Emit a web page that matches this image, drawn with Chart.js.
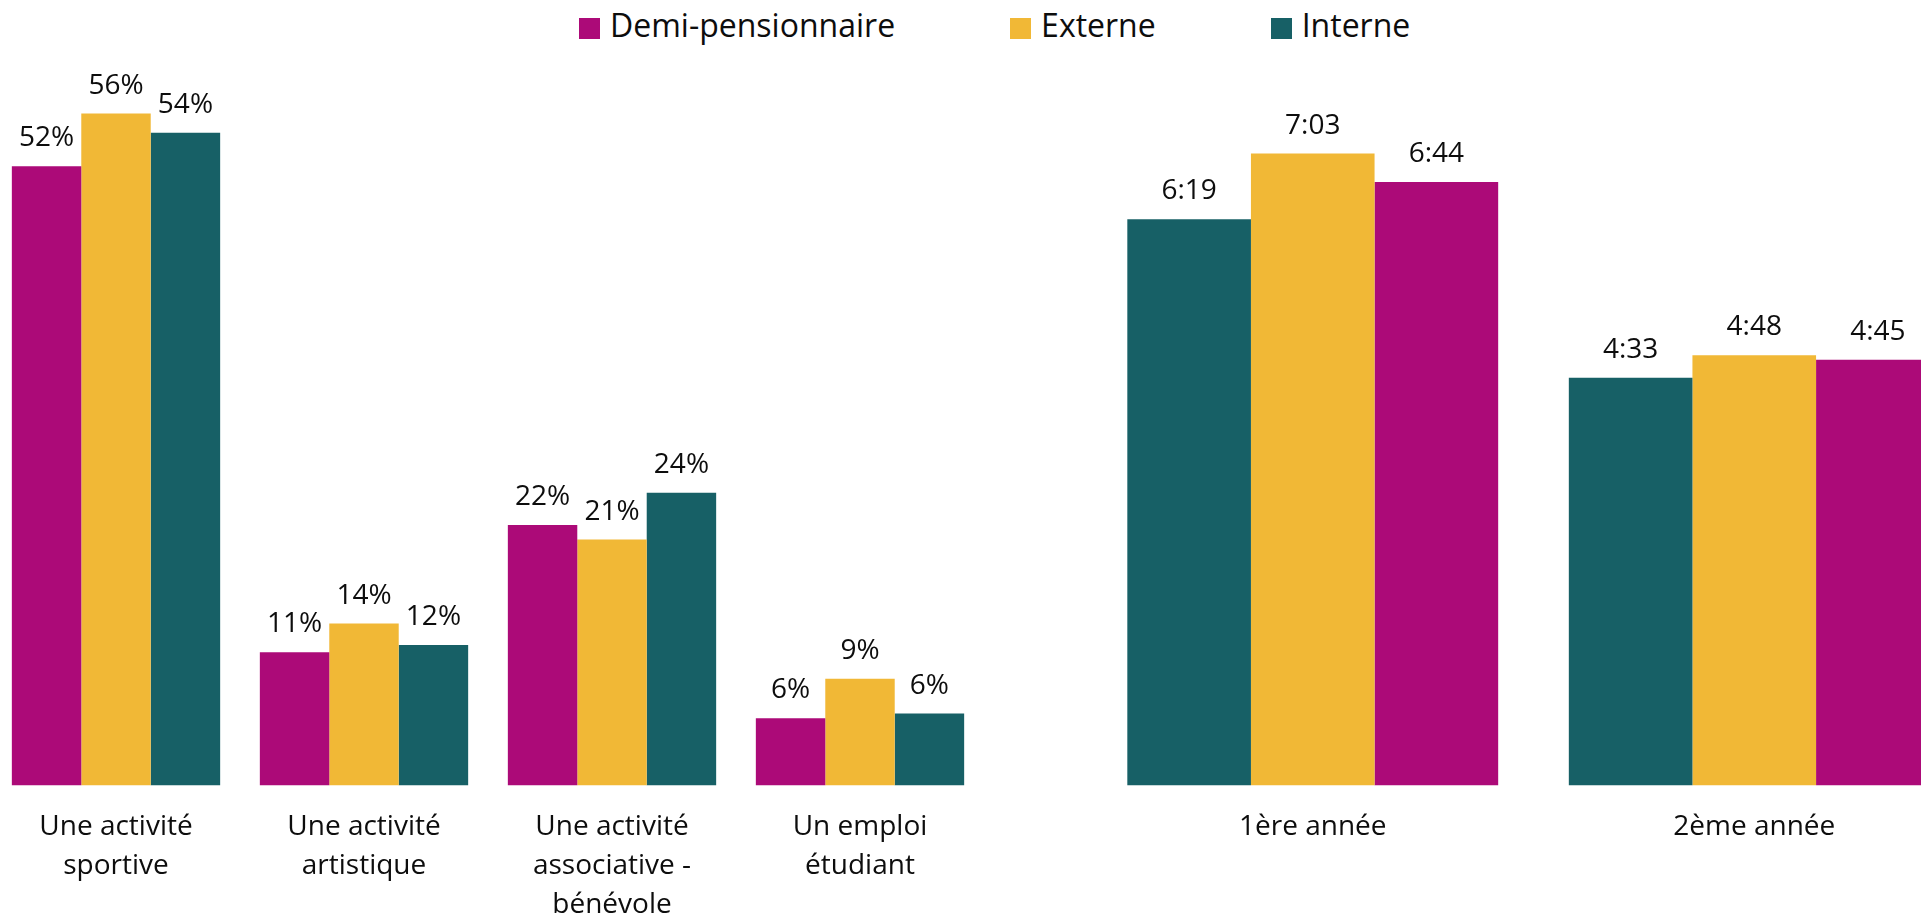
<!DOCTYPE html>
<html lang="fr">
<head>
<meta charset="utf-8">
<script src="https://cdn.jsdelivr.net/npm/chart.js@4.4.1/dist/chart.umd.min.js"></script>
<style>
html,body{margin:0;padding:0;background:#fff;overflow:hidden;width:1921px;height:917px;}
#wrap{position:relative;width:1921px;height:917px;overflow:hidden;}
#c1{position:absolute;left:-8px;top:0;}
#c2{position:absolute;left:1092px;top:0;}
#legend{position:absolute;left:579px;top:3px;display:flex;font-family:'Open Sans',sans-serif;font-size:32px;color:#0d0d0d;white-space:nowrap;}
#legend .item{display:flex;align-items:flex-start;margin-right:115px;}
#legend .sw{width:21px;height:21px;margin-top:15px;margin-right:10px;}
#legend .tx{line-height:44px;}
</style>
</head>
<body>
<div id="wrap">
  <div id="legend"></div>
  <canvas id="c1" width="992" height="917"></canvas>
  <canvas id="c2" width="883" height="917"></canvas>
</div>
<script>
// ---- Data ----
const seriesNames = ['Demi-pensionnaire', 'Externe', 'Interne'];
const seriesColors = ['#AC0A78', '#F1B836', '#176066'];

const activityCategories = [
  ['Une activité', 'sportive'],
  ['Une activité', 'artistique'],
  ['Une activité', 'associative -', 'bénévole'],
  ['Un emploi', 'étudiant']
];
const demiActivity = [51.6, 11.1, 21.7, 5.6];      // %
const externeActivity = [56.0, 13.5, 20.5, 8.9];   // %
const interneActivity = [54.4, 11.7, 24.4, 6.0];   // %

const yearCategories = ['1ère année', '2ème année'];
const interneTime = [379, 273];   // minutes : 6:19, 4:33
const externeTime = [423, 288];   // minutes : 7:03, 4:48
const demiTime = [404, 285];      // minutes : 6:44, 4:45

// ---- Legend (shared) ----
const legendEl = document.getElementById('legend');
seriesNames.forEach((name, i) => {
  const item = document.createElement('div');
  item.className = 'item';
  const sw = document.createElement('div');
  sw.className = 'sw';
  sw.style.background = seriesColors[i];
  const tx = document.createElement('span');
  tx.className = 'tx';
  tx.textContent = name;
  item.appendChild(sw); item.appendChild(tx);
  legendEl.appendChild(item);
});

// ---- Value label plugin ----
const valueLabels = {
  id: 'valueLabels',
  afterDatasetsDraw(chart, args, opts) {
    const ctx = chart.ctx;
    ctx.save();
    ctx.font = '28px "Open Sans", sans-serif';
    ctx.fillStyle = '#0d0d0d';
    ctx.textAlign = 'center';
    ctx.textBaseline = 'alphabetic';
    chart.data.datasets.forEach((ds, i) => {
      const meta = chart.getDatasetMeta(i);
      meta.data.forEach((bar, j) => {
        ctx.fillText(opts.format(ds.data[j]), bar.x, bar.y - 20);
      });
    });
    ctx.restore();
  }
};

const pct = v => Math.round(v) + '%';
const hm = v => Math.floor(v / 60) + ':' + String(v % 60).padStart(2, '0');

function xScale() {
  return {
    grid: { display: false, drawTicks: false },
    border: { display: false },
    ticks: {
      color: '#0d0d0d',
      font: { family: "'Open Sans', sans-serif", size: 28, lineHeight: 1.4 },
      padding: 22, maxRotation: 0, minRotation: 0, autoSkip: false
    },
    afterFit(scale) { scale.height = 131.5; }
  };
}

function ds(label, data, color) {
  return { label, data, backgroundColor: color, borderWidth: 0, categoryPercentage: 0.84, barPercentage: 1.0 };
}

function build() {
  new Chart(document.getElementById('c1'), {
    type: 'bar',
    data: {
      labels: activityCategories,
      datasets: [
        ds(seriesNames[0], demiActivity, seriesColors[0]),
        ds(seriesNames[1], externeActivity, seriesColors[1]),
        ds(seriesNames[2], interneActivity, seriesColors[2])
      ]
    },
    options: {
      responsive: false, animation: false, events: [],
      layout: { padding: { top: 65.5, left: 0, right: 0, bottom: 0 } },
      scales: { x: xScale(), y: { display: false, min: 0, max: 60 } },
      plugins: { legend: { display: false }, tooltip: { enabled: false }, valueLabels: { format: pct } }
    },
    plugins: [valueLabels]
  });

  new Chart(document.getElementById('c2'), {
    type: 'bar',
    data: {
      labels: yearCategories,
      datasets: [
        ds(seriesNames[2], interneTime, seriesColors[2]),
        ds(seriesNames[1], externeTime, seriesColors[1]),
        ds(seriesNames[0], demiTime, seriesColors[0])
      ]
    },
    options: {
      responsive: false, animation: false, events: [],
      layout: { padding: { top: 68.4, left: 0, right: 0, bottom: 0 } },
      scales: { x: xScale(), y: { display: false, min: 0, max: 480 } },
      plugins: { legend: { display: false }, tooltip: { enabled: false }, valueLabels: { format: hm } }
    },
    plugins: [valueLabels]
  });
}

if (document.fonts && document.fonts.load) {
  Promise.all([
    document.fonts.load('28px "Open Sans"'),
    document.fonts.load('32px "Open Sans"')
  ]).then(build, build);
} else {
  build();
}
</script>
</body>
</html>
